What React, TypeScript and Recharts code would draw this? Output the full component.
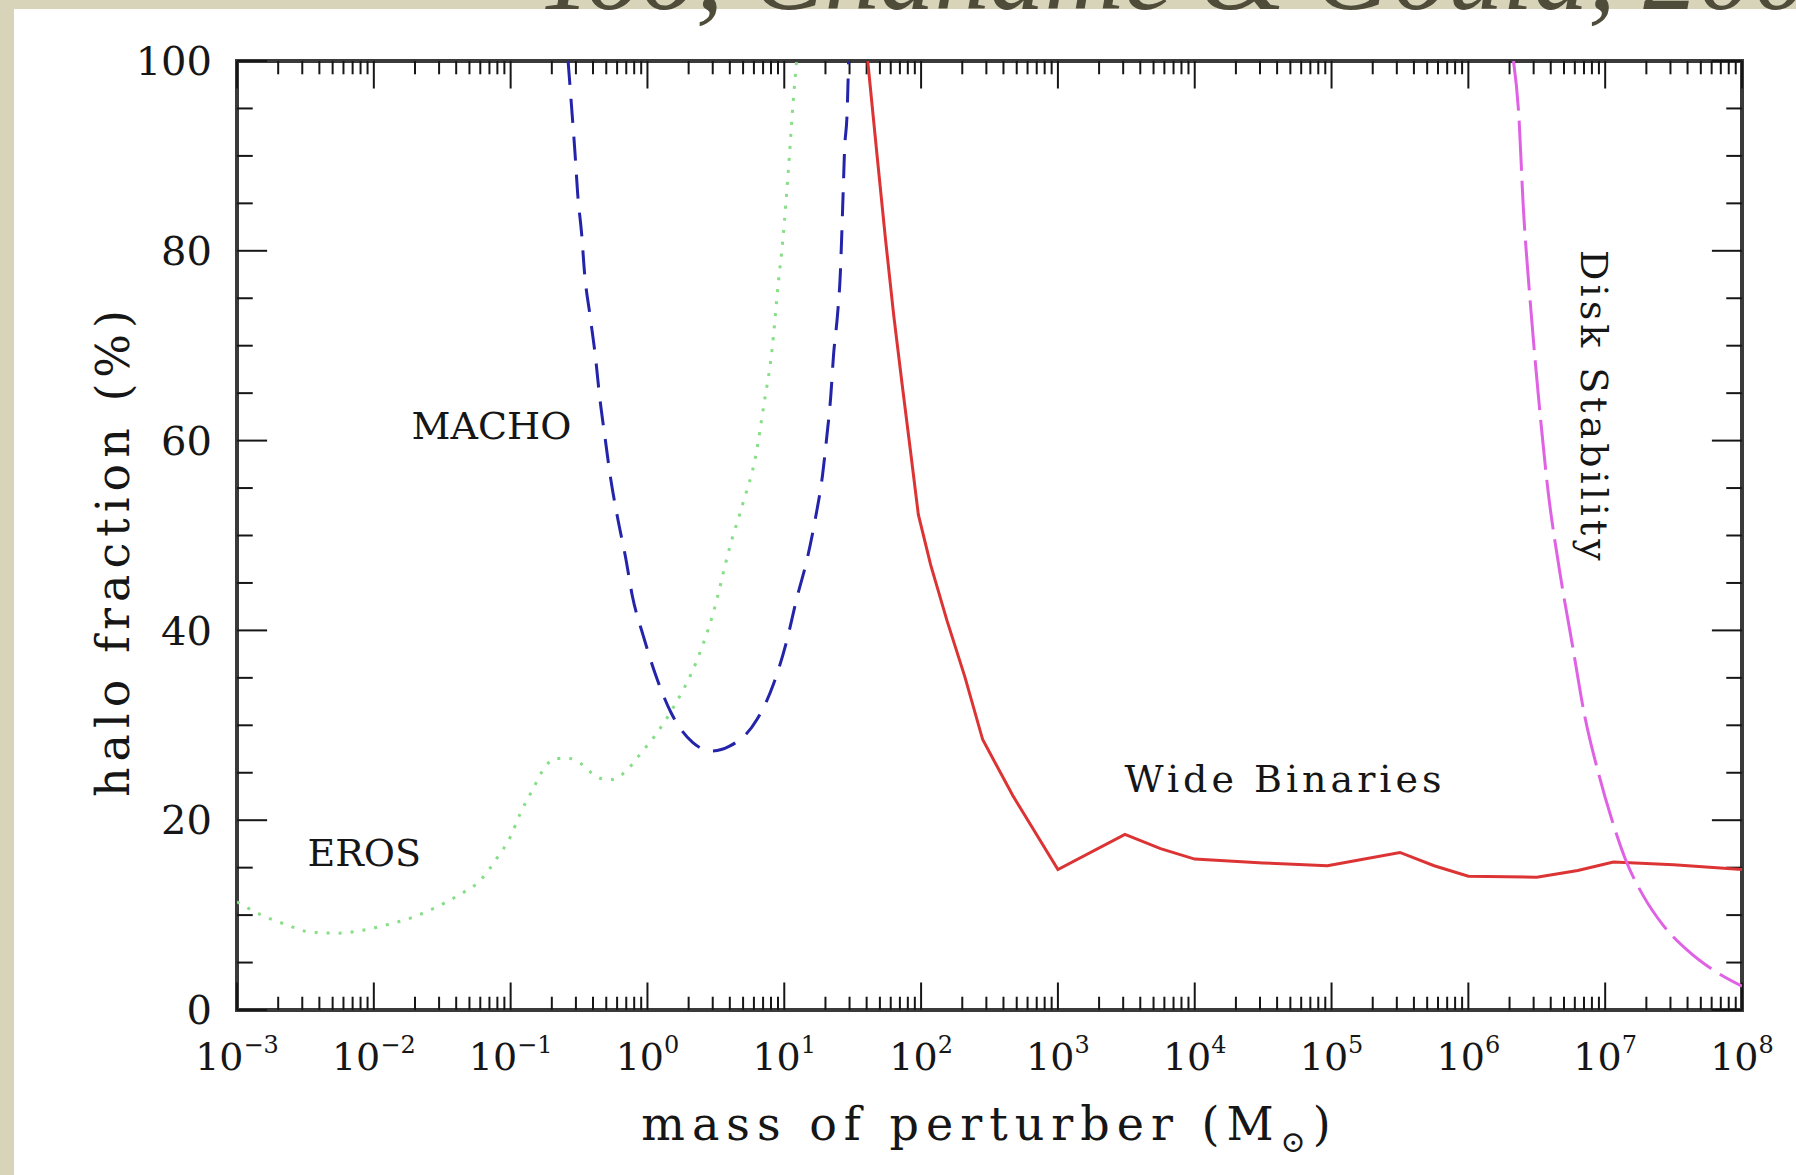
import {
  ComposedChart,
  Line,
  ReferenceArea,
  ReferenceLine,
  Scatter,
  XAxis,
  YAxis,
} from "recharts";

const WIDTH = 1796;
const HEIGHT = 1175;
const SERIF = '"DejaVu Serif", "Liberation Serif", serif';
const INK = "#161616";
const FRAME = "#3a3a3a";
const BEIGE = "#d7d4b9";

const EROS = "#86de86"; // dotted green
const MACHO = "#2424aa"; // dashed blue
const BINARIES = "#dc3434"; // solid red
const DISK = "#e062e4"; // long-dashed magenta

// x = log10(mass of perturber / Msun), y = halo fraction (%)
const EROS_LOGM = [
  -3.0, -2.82, -2.64, -2.46, -2.26, -2.08, -1.9, -1.71, -1.55, -1.38, -1.22, -1.1, -1.0, -0.93,
  -0.84, -0.75, -0.67, -0.57, -0.49, -0.41, -0.31, -0.25, -0.17, -0.04, 0.07, 0.19, 0.36, 0.48,
  0.6, 0.7, 0.79, 0.85, 0.91, 0.955, 0.99, 1.03, 1.065, 1.09,
];
const EROS_FRAC = [
  11.4, 10.0, 9.0, 8.2, 8.1, 8.4, 9.0, 9.8, 10.8, 12.1, 13.7, 16.0, 18.3, 20.7, 23.2, 25.6, 26.5,
  26.5, 26.0, 25.0, 24.3, 24.3, 25.0, 27.2, 29.2, 31.9, 36.8, 41.8, 48.7, 53.5, 58.3, 63.7, 69.5,
  76.4, 81.2, 88.5, 95.7, 100,
];

const MACHO_LOGM = [
  -0.58, -0.55, -0.53, -0.51, -0.48, -0.46, -0.42, -0.38, -0.35, -0.31, -0.27, -0.22, -0.16, -0.11,
  -0.03, 0.06, 0.17, 0.33, 0.47, 0.6, 0.8, 0.92, 1.02, 1.09, 1.17, 1.23, 1.28, 1.31, 1.34, 1.36,
  1.39, 1.41, 1.42, 1.43, 1.44, 1.46, 1.47,
];
const MACHO_FRAC = [
  100, 94.3, 90.4, 86.0, 81.6, 77.7, 73.2, 68.8, 64.7, 60.3, 56.1, 52.0, 47.7, 43.6, 39.4, 35.3,
  31.4, 28.2, 27.3, 27.8, 30.6, 34.3, 39.0, 43.3, 47.7, 52.0, 56.4, 60.3, 64.7, 69.0, 73.4, 77.7,
  81.6, 86.0, 90.4, 94.8, 100,
];

const BINARIES_LOGM = [
  1.61, 1.68, 1.74, 1.8, 1.86, 1.92, 1.98, 2.07, 2.19, 2.32, 2.45, 2.67, 3.0, 3.49, 3.75, 4.0, 4.5,
  4.97, 5.2, 5.5, 5.75, 6.0, 6.5, 6.8, 7.06, 7.5, 8.0,
];
const BINARIES_FRAC = [
  100, 89.8, 81.2, 73.2, 66.1, 59.2, 52.2, 46.9, 41.0, 35.1, 28.5, 22.6, 14.8, 18.5, 17.0, 15.9,
  15.5, 15.2, 15.8, 16.6, 15.2, 14.1, 14.0, 14.7, 15.6, 15.3, 14.8,
];

const DISK_LOGM = [
  6.33, 6.37, 6.4, 6.45, 6.51, 6.58, 6.67, 6.76, 6.85, 6.95, 7.05, 7.15, 7.28, 7.42, 7.6, 7.79, 8.0,
];
const DISK_FRAC = [
  100, 94, 85, 75, 65, 55, 46, 38.5, 31, 25, 20, 15.8, 12, 9, 6.3, 4.2, 2.5,
];

const X_EXPONENTS = [-3, -2, -1, 0, 1, 2, 3, 4, 5, 6, 7, 8];
const Y_TICKS = [0, 20, 40, 60, 80, 100];
const Y_MINOR = [5, 10, 15, 25, 30, 35, 45, 50, 55, 65, 70, 75, 85, 90, 95];

const NOTE_TEXT = ["MACHO", "EROS", "Wide Binaries", "Disk Stability"];
const NOTE_LOGM = [-1.14, -2.07, 4.66, 6.92];
const NOTE_FRAC = [61.5, 16.5, 24.3, 63.5];

const pts = (m: number[], f: number[]) => m.map((v, i) => ({ m: v, f: f[i] }));

const erosData = pts(EROS_LOGM, EROS_FRAC);
const machoData = pts(MACHO_LOGM, MACHO_FRAC);
const binariesData = pts(BINARIES_LOGM, BINARIES_FRAC);
const diskData = pts(DISK_LOGM, DISK_FRAC);
const notes = NOTE_TEXT.map((text, i) => ({ text, m: NOTE_LOGM[i], f: NOTE_FRAC[i] }));

// log-axis minor ticks (2..9 x 10^n)
const X_MINOR = X_EXPONENTS.slice(0, -1).flatMap((e) =>
  [2, 3, 4, 5, 6, 7, 8, 9].map((k) => e + Math.log10(k)),
);

const X_MAJOR_LEN = 2.9; // in %
const X_MINOR_LEN = 1.4;
const Y_MAJOR_LEN = 0.22; // in decades
const Y_MINOR_LEN = 0.115;

function MassTick({ x, y, payload }: any) {
  const e = payload.value as number;
  return (
    <text x={x} y={y + 60} textAnchor="middle" fontFamily={SERIF} fontSize={38} fill={INK}>
      10
      <tspan dy={-17} fontSize={24}>
        {e < 0 ? `\u2212${-e}` : e}
      </tspan>
    </text>
  );
}

function XTitle({ viewBox }: any) {
  const vb = viewBox ?? { x: 237, y: 1010, width: 1505, height: 165 };
  return (
    <text
      x={vb.x + vb.width / 2}
      y={vb.y + 130}
      textAnchor="middle"
      fontFamily={SERIF}
      fontSize={46}
      letterSpacing={7}
      fill={INK}
    >
      mass of perturber (M
      <tspan dy={12} fontSize={30}>
        {"\u2299"}
      </tspan>
      <tspan dy={-12}>)</tspan>
    </text>
  );
}

function YTitle({ viewBox }: any) {
  const vb = viewBox ?? { x: 0, y: 61, width: 237, height: 949 };
  const x = vb.x + 129;
  const y = vb.y + vb.height / 2 + 15;
  return (
    <text
      x={x}
      y={y}
      transform={`rotate(-90 ${x} ${y})`}
      textAnchor="middle"
      fontFamily={SERIF}
      fontSize={46}
      letterSpacing={6}
      fill={INK}
    >
      halo fraction (%)
    </text>
  );
}

function Note(props: any) {
  const { cx, cy, payload } = props;
  const vertical = payload.text === "Disk Stability";
  const spaced = payload.text.includes(" ");
  return (
    <text
      x={cx}
      y={cy}
      textAnchor="middle"
      dominantBaseline="central"
      transform={vertical ? `rotate(90 ${cx} ${cy})` : undefined}
      fontFamily={SERIF}
      fontSize={38}
      letterSpacing={spaced ? 4 : 0}
      fill={INK}
    >
      {payload.text}
    </text>
  );
}

export default function App() {
  return (
    <div
      style={{
        position: "absolute",
        left: 0,
        top: 0,
        width: WIDTH,
        height: HEIGHT,
        background: BEIGE,
        overflow: "hidden",
      }}
    >
      <div style={{ position: "absolute", left: 14, top: 9, right: 0, bottom: 0, background: "#fff" }} />
      <svg
        width={WIDTH}
        height={60}
        style={{ position: "absolute", left: 0, top: 0 }}
      >
        <text
          x={535}
          y={9}
          fontFamily='"Liberation Serif", serif'
          fontStyle="italic"
          fontSize={110}
          fill="#4f4c3a"
        >
          Yoo, Chanamé &amp; Gould, 2004)
        </text>
      </svg>
      <div style={{ position: "absolute", left: 0, top: 0 }}>
        <ComposedChart
          width={WIDTH}
          height={HEIGHT}
          margin={{ top: 61, right: 54, left: 0, bottom: 0 }}
        >
          <XAxis
            dataKey="m"
            type="number"
            domain={[-3, 8]}
            ticks={X_EXPONENTS}
            interval={0}
            allowDataOverflow
            height={165}
            axisLine={false}
            tickLine={false}
            tickSize={0}
            tickMargin={0}
            tick={<MassTick />}
            label={<XTitle />}
          />
          <YAxis
            type="number"
            domain={[0, 100]}
            ticks={Y_TICKS}
            interval={0}
            allowDataOverflow
            width={237}
            axisLine={false}
            tickLine={false}
            tickSize={0}
            tickMargin={25}
            tick={{ fontSize: 40, fontFamily: SERIF, fill: INK }}
            label={<YTitle />}
          />

          {X_EXPONENTS.map((x) => (
            <ReferenceLine key={`xb${x}`} segment={[{ x, y: 0 }, { x, y: X_MAJOR_LEN }]} stroke={INK} strokeWidth={2} />
          ))}
          {X_EXPONENTS.map((x) => (
            <ReferenceLine key={`xt${x}`} segment={[{ x, y: 100 }, { x, y: 100 - X_MAJOR_LEN }]} stroke={INK} strokeWidth={2} />
          ))}
          {X_MINOR.map((x) => (
            <ReferenceLine key={`xbm${x}`} segment={[{ x, y: 0 }, { x, y: X_MINOR_LEN }]} stroke={INK} strokeWidth={2} />
          ))}
          {X_MINOR.map((x) => (
            <ReferenceLine key={`xtm${x}`} segment={[{ x, y: 100 }, { x, y: 100 - X_MINOR_LEN }]} stroke={INK} strokeWidth={2} />
          ))}
          {Y_TICKS.map((y) => (
            <ReferenceLine key={`yl${y}`} segment={[{ x: -3, y }, { x: -3 + Y_MAJOR_LEN, y }]} stroke={INK} strokeWidth={2} />
          ))}
          {Y_TICKS.map((y) => (
            <ReferenceLine key={`yr${y}`} segment={[{ x: 8, y }, { x: 8 - Y_MAJOR_LEN, y }]} stroke={INK} strokeWidth={2} />
          ))}
          {Y_MINOR.map((y) => (
            <ReferenceLine key={`ylm${y}`} segment={[{ x: -3, y }, { x: -3 + Y_MINOR_LEN, y }]} stroke={INK} strokeWidth={2} />
          ))}
          {Y_MINOR.map((y) => (
            <ReferenceLine key={`yrm${y}`} segment={[{ x: 8, y }, { x: 8 - Y_MINOR_LEN, y }]} stroke={INK} strokeWidth={2} />
          ))}

          <Line
            data={erosData}
            dataKey="f"
            type="monotone"
            stroke={EROS}
            strokeWidth={3}
            strokeDasharray="3 9"
            dot={false}
            activeDot={false}
            isAnimationActive={false}
          />
          <Line
            data={machoData}
            dataKey="f"
            type="monotone"
            stroke={MACHO}
            strokeWidth={3}
            strokeDasharray="24 14"
            dot={false}
            activeDot={false}
            isAnimationActive={false}
          />
          <Line
            data={binariesData}
            dataKey="f"
            type="linear"
            stroke={BINARIES}
            strokeWidth={3}
            dot={false}
            activeDot={false}
            isAnimationActive={false}
          />
          <Line
            data={diskData}
            dataKey="f"
            type="monotone"
            stroke={DISK}
            strokeWidth={3}
            strokeDasharray="50 10"
            dot={false}
            activeDot={false}
            isAnimationActive={false}
          />
          <Scatter data={notes} dataKey="f" shape={Note} isAnimationActive={false} />

          <ReferenceArea
            x1={-3}
            x2={8}
            y1={0}
            y2={100}
            fill="none"
            stroke={FRAME}
            strokeWidth={4}
            ifOverflow="visible"
          />
        </ComposedChart>
      </div>
    </div>
  );
}
